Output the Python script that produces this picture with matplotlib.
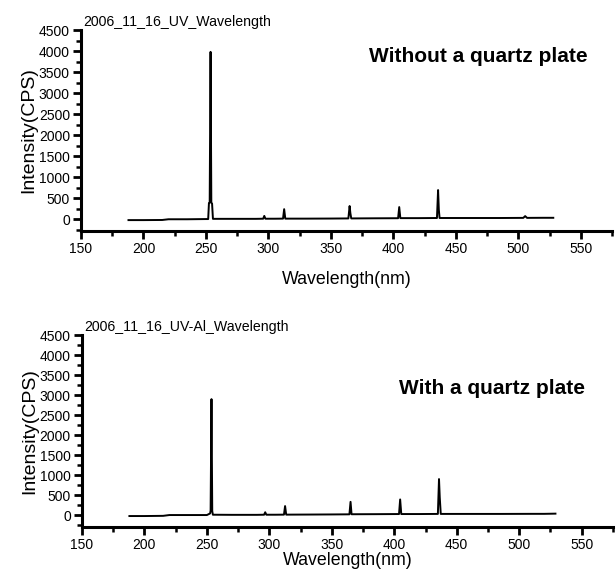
import matplotlib
matplotlib.use("Agg")
import matplotlib.pyplot as plt
from matplotlib.ticker import MultipleLocator

plt.rcParams['font.family'] = ['Liberation Sans', 'DejaVu Sans']

# spectrum without the quartz plate (wavelength in nm, intensity in CPS)
wl_plain = [188, 200, 215, 220, 235, 250, 251.8, 252.4, 253.0, 253.7, 254.3, 254.9, 255.6,
            270, 290, 295.8, 296.7, 297.6, 305, 311.7, 312.6, 313.5, 330, 350, 364.0, 365.0,
            365.6, 366.3, 385, 403.8, 404.7, 405.6, 420, 434.9, 435.8, 436.4, 437.0,
            460, 485, 504, 505.5, 507, 520, 528]
cps_plain = [-25, -25, -22, -5, -5, 0, 0, 380, 390, 3980, 390, 370, 5,
             5, 5, 8, 75, 8, 8, 10, 235, 10, 10, 12, 15, 310, 140, 15, 18, 20, 285, 22, 22,
             25, 690, 220, 25, 25, 25, 28, 70, 28, 30, 30]

# spectrum with the quartz plate
wl_quartz = [188, 200, 215, 220, 235, 250, 252.6, 253.0, 253.7, 254.3, 254.8, 270, 290,
             295.8, 296.7, 297.6, 305, 311.7, 312.6, 313.5, 330, 350, 364.1, 365.0, 365.8,
             385, 403.8, 404.7, 405.6, 420, 434.9, 435.8, 436.4, 437.2, 460, 485, 510,
             520, 529]
cps_quartz = [-25, -25, -20, 0, 0, 0, 40, 110, 2900, 100, 8, 5, 5,
              8, 70, 8, 8, 10, 225, 10, 12, 15, 18, 330, 20, 22, 25, 390, 25, 25,
              28, 900, 440, 28, 28, 28, 30, 30, 35]

panels = [
    (wl_plain, cps_plain, "2006_11_16_UV_Wavelength", "Without a quartz plate", -285, 0.87, 0.955),
    (wl_quartz, cps_quartz, "2006_11_16_UV-Al_Wavelength", "With a quartz plate", -300, 0.72, 0.947),
]

fig = plt.figure(figsize=(6.16, 5.71), dpi=100)
axes = [fig.add_axes([0.1315, 0.5954, 0.862, 0.352]),
        fig.add_axes([0.133, 0.077, 0.862, 0.336])]

for ax, (wl, cps, run_name, caption, ymin, cap_y, cap_x) in zip(axes, panels):
    ax.plot(wl, cps, color="black", linewidth=1.4)
    ax.set_xlim(150, 575)
    ax.set_ylim(ymin, 4500)
    ax.xaxis.set_major_locator(MultipleLocator(50))
    ax.xaxis.set_minor_locator(MultipleLocator(25))
    ax.yaxis.set_major_locator(MultipleLocator(500))
    ax.yaxis.set_minor_locator(MultipleLocator(250))
    for side in ("top", "right"):
        ax.spines[side].set_visible(False)
    for side in ("left", "bottom"):
        ax.spines[side].set_linewidth(2.2)
    ax.tick_params(which="major", direction="out", length=6, width=2, labelsize=10, pad=2)
    ax.tick_params(which="minor", direction="out", length=3.5, width=1.8)
    ax.set_ylabel("Intensity(CPS)", fontsize=14, labelpad=1)
    ax.text(0.005, 1.005, run_name, transform=ax.transAxes, fontsize=10.2, va="bottom", ha="left")
    ax.text(cap_x, cap_y, caption, transform=ax.transAxes,
            fontsize=15, fontweight="bold", ha="right", va="center")

axes[0].set_xlabel("Wavelength(nm)", fontsize=12.8, labelpad=11)
axes[1].set_xlabel("Wavelength(nm)", fontsize=12.8, labelpad=0)

fig.savefig("out.png", dpi=100)
